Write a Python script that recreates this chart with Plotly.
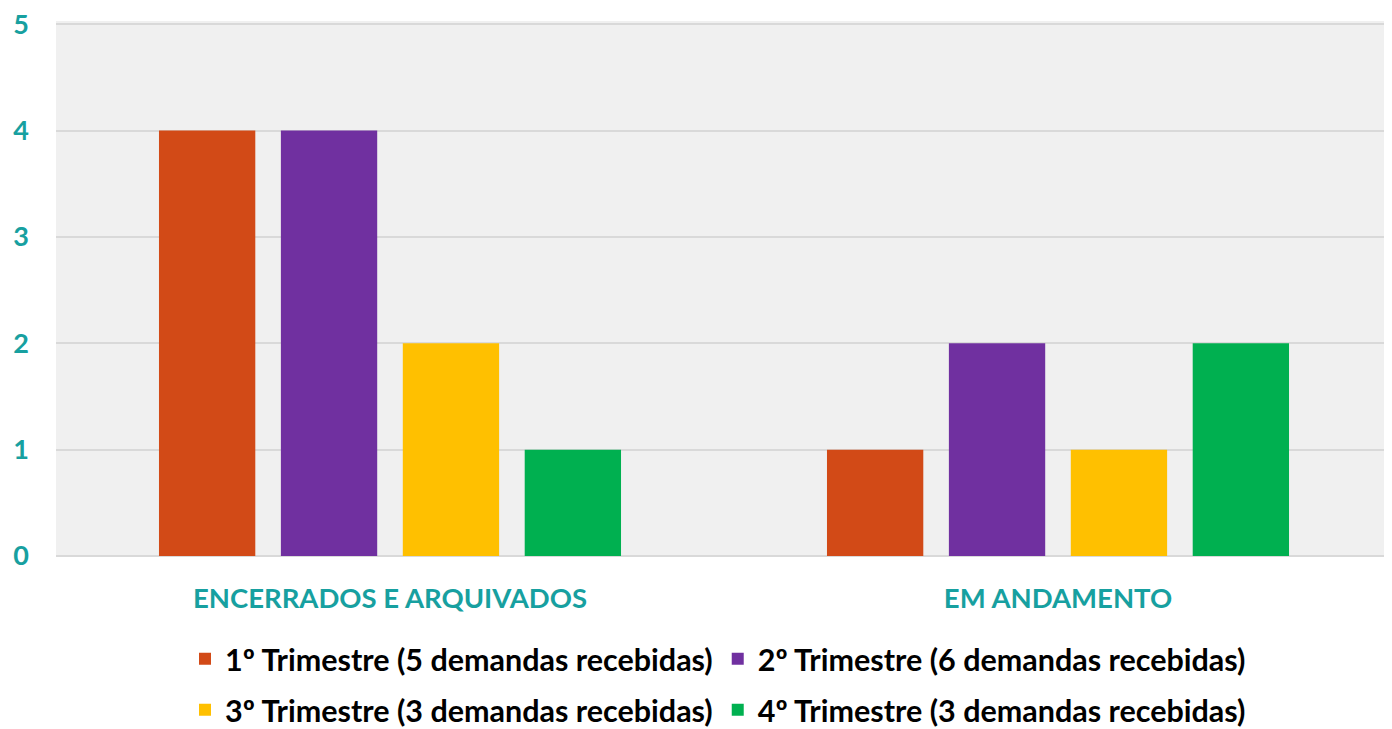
import plotly.graph_objects as go

categories = ["ENCERRADOS E ARQUIVADOS", "EM ANDAMENTO"]
series_names = [
    "1º Trimestre (5 demandas recebidas)",
    "2º Trimestre (6 demandas recebidas)",
    "3º Trimestre (3 demandas recebidas)",
    "4º Trimestre (3 demandas recebidas)",
]
q1 = [4, 1]
q2 = [4, 2]
q3 = [2, 1]
q4 = [1, 2]
colors = ["#D24A17", "#7030A0", "#FFC000", "#00B050"]
y_ticks = [0, 1, 2, 3, 4, 5]
legend_ids = ["legend", "legend", "legend2", "legend2"]

# page has an 8px body margin; figure is sized to fill the rest of the window
W, H, OFF = 1384, 721, 8

teal = "#17A0A0"
fig = go.Figure()
for name, vals, c, lg in zip(series_names, [q1, q2, q3, q4], colors, legend_ids):
    fig.add_trace(go.Bar(x=categories, y=vals, name=name, legend=lg,
                         marker=dict(color=c, line=dict(width=0))))

legfont = dict(family="Lato", size=30.5, color="black", weight="bold")
fig.update_layout(
    width=W, height=H,
    barmode="group", bargap=0.27, bargroupgap=0.21,
    paper_bgcolor="white", plot_bgcolor="#F0F0F0",
    margin=dict(l=48, r=0, t=13, b=173, autoexpand=False),
    font=dict(family="Lato", size=24, color="black"),
    legend=dict(orientation="h", x=(718 - OFF) / W, xref="container", xanchor="center",
                y=1 - (659 - OFF) / H, yref="container", yanchor="middle",
                font=legfont, itemwidth=30),
    legend2=dict(orientation="h", x=(718 - OFF) / W, xref="container", xanchor="center",
                 y=1 - (710 - OFF) / H, yref="container", yanchor="middle",
                 font=legfont, itemwidth=30),
    showlegend=True,
)
fig.update_yaxes(range=[0, 5.03], tickvals=y_ticks, showgrid=True, gridcolor="#D9D9D9", gridwidth=2,
                 zeroline=True, zerolinecolor="#D9D9D9", zerolinewidth=2, automargin=False,
                 tickfont=dict(family="Lato", size=27, color=teal, weight="bold"),
                 ticklabelstandoff=26, ticklabeloverflow="allow", fixedrange=True)
fig.update_xaxes(tickfont=dict(family="Lato", size=27.5, color=teal, weight="bold"),
                 ticklabelstandoff=23, showline=False, automargin=False)
fig.write_html("out.html")
